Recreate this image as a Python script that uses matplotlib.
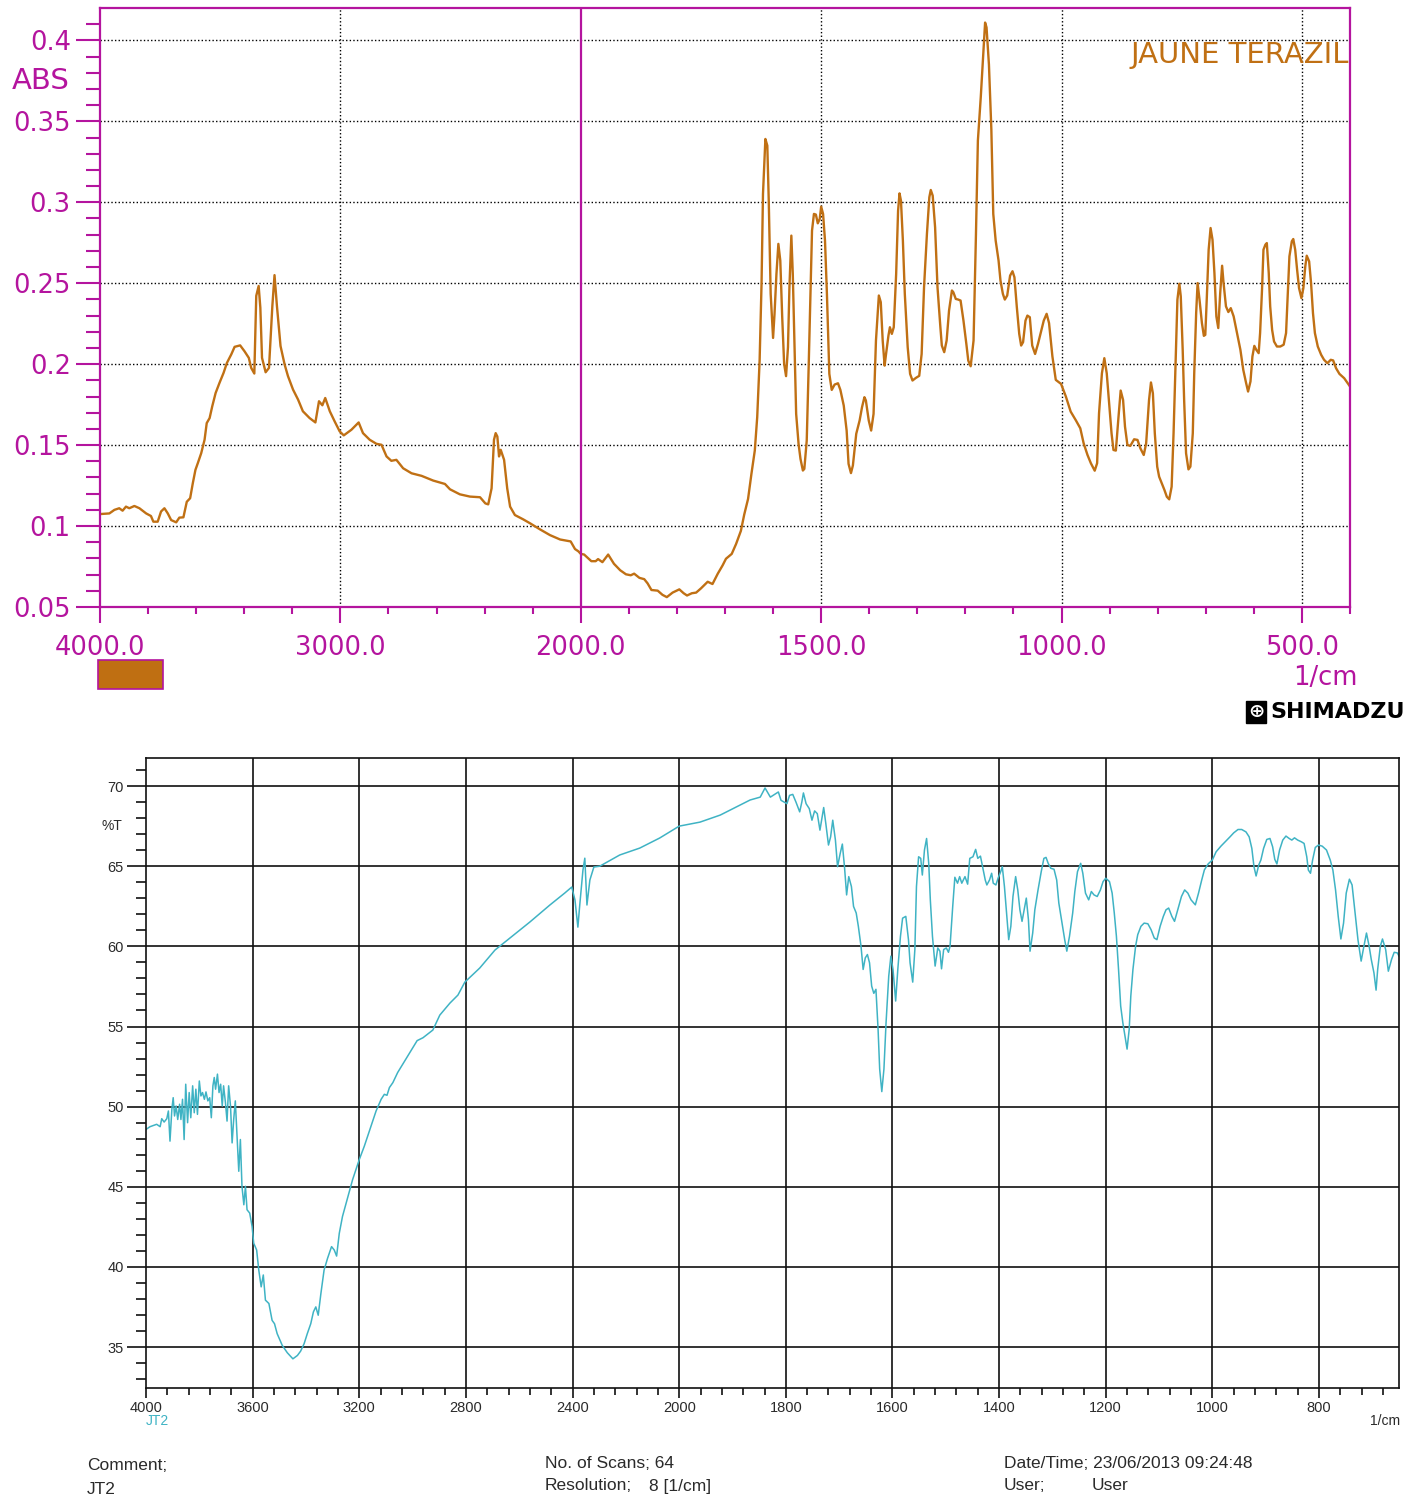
import numpy as np
import matplotlib
matplotlib.use("Agg")
import matplotlib.pyplot as plt
from matplotlib.ticker import FixedLocator, FuncFormatter
from matplotlib.patches import Rectangle

# ---------------- 数据: 上图 (吸光度 ABS) ----------------
abs_wavenumber = [
    4000, 3961, 3940, 3920, 3906, 3892, 3878, 3857, 3836, 3808, 3788, 3778, 3760,
    3746, 3732, 3718, 3704, 3683, 3670, 3653, 3639, 3625, 3614, 3603, 3593, 3579,
    3565, 3556, 3544, 3533, 3519, 3503, 3486, 3472, 3454, 3440, 3417, 3399, 3381,
    3371, 3358, 3350, 3340, 3333, 3326, 3311, 3297, 3283, 3274, 3264, 3249, 3232,
    3218, 3197, 3176, 3156, 3128, 3104, 3089, 3075, 3063, 3044, 3024, 3003, 2986,
    2954, 2924, 2906, 2878, 2850, 2829, 2808, 2788, 2767, 2739, 2704, 2662, 2614,
    2565, 2544, 2503, 2461, 2419, 2397, 2385, 2371, 2361, 2354, 2347, 2340, 2333,
    2319, 2306, 2294, 2274, 2239, 2211, 2169, 2128, 2086,
    2042, 2024, 2010, 2000, 1993, 1978, 1969, 1964, 1955, 1943, 1931, 1918, 1906,
    1896, 1889, 1878, 1868, 1861, 1853, 1840, 1830, 1821, 1809, 1795, 1786, 1779,
    1769, 1760, 1750, 1736, 1726, 1715, 1705, 1698, 1686, 1677, 1667, 1660,
    1652, 1645, 1638, 1633, 1628, 1624, 1621, 1616, 1612, 1609, 1605, 1600, 1597,
    1593, 1589, 1585, 1581, 1577, 1573, 1569, 1566, 1562, 1559, 1555, 1552, 1547,
    1543, 1538, 1535, 1530, 1526, 1522, 1519, 1515, 1511, 1507, 1503, 1500, 1496,
    1492, 1488, 1483, 1478, 1472, 1465, 1460, 1453, 1447, 1443, 1438, 1434, 1427,
    1420, 1415, 1410, 1407, 1401, 1396, 1391, 1386, 1380, 1376, 1372, 1368, 1365,
    1360, 1357, 1353, 1349, 1344, 1340, 1337, 1334, 1330, 1326, 1320, 1315, 1310,
    1303, 1296, 1291, 1286, 1280, 1275, 1272, 1268, 1263, 1258, 1252, 1249, 1244,
    1239, 1234, 1228, 1225, 1220, 1215, 1210, 1204, 1198, 1194, 1189, 1183, 1178,
    1174, 1168, 1162, 1159, 1156, 1151, 1146, 1142, 1137, 1131, 1127, 1122, 1118,
    1113, 1107, 1102, 1098, 1093, 1088, 1084, 1080, 1075, 1071, 1066, 1061, 1055,
    1049, 1042, 1037, 1031,
    1026, 1019, 1012, 1001, 991, 981, 970, 961, 954, 946, 939, 931, 926, 922, 916,
    911, 906, 901, 896, 892, 887, 882, 877, 872, 868, 863, 857, 849, 842, 836, 829,
    824, 818, 814, 810, 806, 801, 797, 792, 786, 781, 776, 771, 767, 763, 759, 755,
    752, 748, 745, 741, 736, 732, 727, 724, 720, 717, 713, 708, 704, 701, 698, 694,
    690, 686, 682, 678, 674, 670, 666, 663, 658, 653, 648, 642, 635, 628, 622, 616,
    612, 607, 603, 599, 595, 590, 587, 583, 580, 576, 573, 569, 566, 562, 558, 552,
    545, 538, 533, 530, 526, 521, 518, 514, 510, 506, 501, 497, 493, 490, 485, 481,
    477, 473, 467, 460, 454, 447, 440, 435, 429, 422, 412, 400,
]
abs_value = [
    0.1074, 0.1078, 0.1100, 0.1110, 0.1095, 0.1120, 0.1110, 0.1124, 0.1110, 0.1078,
    0.1062, 0.1027, 0.1027, 0.1090, 0.1110, 0.1078, 0.1037, 0.1023, 0.1052, 0.1054,
    0.1150, 0.1172, 0.1264, 0.1347, 0.1389, 0.1450, 0.1533, 0.1636, 0.1667, 0.1740,
    0.1822, 0.1884, 0.1946, 0.2008, 0.2060, 0.2107, 0.2116, 0.2080, 0.2039, 0.1977,
    0.1942, 0.2422, 0.2483, 0.2349, 0.2039, 0.1950, 0.1977, 0.2360, 0.2550, 0.2360,
    0.2112, 0.1998, 0.1926, 0.1843, 0.1781, 0.1709, 0.1667, 0.1640, 0.1771, 0.1746,
    0.1791, 0.1709, 0.1647, 0.1585, 0.1560, 0.1595, 0.1640, 0.1574, 0.1533, 0.1508,
    0.1502, 0.1430, 0.1403, 0.1409, 0.1357, 0.1326, 0.1310, 0.1281, 0.1260, 0.1227,
    0.1196, 0.1182, 0.1178, 0.1140, 0.1134, 0.1233, 0.1533, 0.1574, 0.1553, 0.1430,
    0.1471, 0.1409, 0.1233, 0.1120, 0.1068, 0.1041, 0.1017, 0.0979, 0.0944, 0.0917,
    0.0905, 0.0858, 0.0844, 0.0828, 0.0824, 0.0783, 0.0783, 0.0796, 0.0777, 0.0824,
    0.0767, 0.0727, 0.0702, 0.0696, 0.0706, 0.0680, 0.0672, 0.0646, 0.0605, 0.0601,
    0.0575, 0.0561, 0.0589, 0.0609, 0.0585, 0.0571, 0.0585, 0.0589, 0.0615, 0.0656,
    0.0642, 0.0706, 0.0757, 0.0798, 0.0828, 0.0889, 0.0970, 0.1071,
    0.1168, 0.1323, 0.1467, 0.1673, 0.2022, 0.2496, 0.3051, 0.3391, 0.3350, 0.3010,
    0.2434, 0.2162, 0.2310, 0.2557, 0.2743, 0.2640, 0.2290, 0.2002, 0.1926, 0.2105,
    0.2475, 0.2794, 0.2557, 0.2063, 0.1693, 0.1508, 0.1415, 0.1343, 0.1353, 0.1528,
    0.1981, 0.2475, 0.2825, 0.2928, 0.2924, 0.2870, 0.2897, 0.2973, 0.2928, 0.2763,
    0.2434, 0.1940, 0.1841, 0.1874, 0.1882, 0.1841, 0.1744, 0.1590, 0.1384, 0.1327,
    0.1374, 0.1570, 0.1652, 0.1734, 0.1796, 0.1776, 0.1652, 0.1590, 0.1693, 0.2146,
    0.2424, 0.2383, 0.2146, 0.1991, 0.2063, 0.2177, 0.2228, 0.2187, 0.2228, 0.2557,
    0.2948, 0.3055, 0.3010, 0.2763, 0.2434, 0.2105, 0.1940, 0.1899, 0.1915, 0.1928,
    0.2063, 0.2475, 0.2804, 0.3031, 0.3076, 0.3041, 0.2846, 0.2475, 0.2228, 0.2115,
    0.2074, 0.2146, 0.2331, 0.2455, 0.2444, 0.2403, 0.2399, 0.2393, 0.2269, 0.2125,
    0.2022, 0.1987, 0.2146, 0.2804, 0.3381, 0.3650, 0.3950, 0.4110, 0.4080, 0.3850,
    0.3450, 0.2928, 0.2763, 0.2640, 0.2516, 0.2434, 0.2399, 0.2424, 0.2547, 0.2574,
    0.2537, 0.2352, 0.2187, 0.2115, 0.2136, 0.2269, 0.2300, 0.2290, 0.2115, 0.2063,
    0.2125, 0.2208, 0.2269, 0.2311,
    0.2254, 0.2048, 0.1903, 0.1878, 0.1800, 0.1707, 0.1652, 0.1604, 0.1511, 0.1439,
    0.1388, 0.1342, 0.1388, 0.1697, 0.1944, 0.2037, 0.1944, 0.1759, 0.1573, 0.1470,
    0.1466, 0.1656, 0.1837, 0.1779, 0.1614, 0.1501, 0.1495, 0.1536, 0.1532, 0.1480,
    0.1439, 0.1511, 0.1779, 0.1887, 0.1820, 0.1573, 0.1367, 0.1305, 0.1268, 0.1223,
    0.1181, 0.1165, 0.1243, 0.1573, 0.1985, 0.2398, 0.2497, 0.2419, 0.2089, 0.1779,
    0.1450, 0.1350, 0.1367, 0.1573, 0.1944, 0.2315, 0.2501, 0.2398, 0.2254, 0.2175,
    0.2181, 0.2398, 0.2707, 0.2841, 0.2769, 0.2563, 0.2295, 0.2223, 0.2439, 0.2608,
    0.2501, 0.2357, 0.2322, 0.2346, 0.2295, 0.2192, 0.2089, 0.1965, 0.1882, 0.1831,
    0.1893, 0.2047, 0.2113, 0.2089, 0.2068, 0.2192, 0.2460, 0.2707, 0.2738, 0.2748,
    0.2563, 0.2357, 0.2212, 0.2140, 0.2109, 0.2109, 0.2120, 0.2192, 0.2398, 0.2666,
    0.2759, 0.2773, 0.2707, 0.2583, 0.2470, 0.2408, 0.2470, 0.2604, 0.2670, 0.2635,
    0.2501, 0.2315, 0.2192, 0.2109, 0.2058, 0.2027, 0.2006, 0.2027, 0.2023, 0.1975,
    0.1940, 0.1913, 0.1862,
]

# ---------------- 数据: 下图 (透过率 %T) ----------------
trans_wavenumber = [
    4000, 3985, 3960, 3947, 3941, 3932, 3922, 3916, 3910, 3903, 3898, 3893, 3887,
    3881, 3874, 3869, 3863, 3857, 3851, 3844, 3838, 3832, 3825, 3819, 3813, 3807,
    3800, 3794, 3788, 3781, 3775, 3768, 3761, 3755, 3749, 3744, 3739, 3732, 3726,
    3720, 3714, 3709, 3702, 3696, 3690, 3683, 3677, 3671, 3665, 3658, 3652, 3646,
    3640, 3633, 3627, 3621, 3611, 3602, 3596, 3585, 3577, 3568, 3560, 3552, 3539,
    3527, 3518, 3508, 3489, 3470, 3449, 3432, 3420, 3407, 3395, 3382, 3372, 3363,
    3354, 3344, 3332, 3319, 3304, 3294, 3285, 3275, 3263, 3244, 3225, 3200, 3181,
    3156, 3137, 3118, 3106, 3096, 3087, 3074, 3056, 3037, 3018, 2999, 2983, 2961,
    2924, 2898, 2860, 2830, 2804, 2748, 2691, 2635, 2560, 2485, 2429, 2403, 2391,
    2380, 2373, 2361, 2354, 2346, 2335, 2320, 2298, 2223, 2148, 2073, 2000,
    1961, 1923, 1886, 1867, 1848, 1839, 1829, 1814,
    1809, 1798, 1793, 1787, 1781, 1774, 1770, 1767, 1762, 1756, 1751, 1746, 1741,
    1736, 1732, 1729, 1725, 1720, 1716, 1712, 1707, 1703, 1698, 1694, 1690, 1686,
    1682, 1677, 1673, 1668, 1664, 1659, 1655, 1651, 1647, 1643, 1639, 1635, 1631,
    1627, 1624, 1620, 1616, 1612, 1607, 1603, 1599, 1594, 1590, 1585, 1581, 1575,
    1570, 1567, 1562, 1558, 1555, 1551, 1547, 1544, 1540, 1536, 1532, 1529, 1525,
    1520, 1515, 1511, 1508, 1504, 1499, 1495, 1492, 1487, 1483, 1478, 1474, 1470,
    1464, 1459, 1455, 1449, 1444, 1440, 1435, 1431, 1426, 1423, 1418, 1414, 1411,
    1406, 1402, 1397, 1394, 1390, 1386, 1382, 1378, 1374, 1369, 1365, 1361, 1357,
    1353, 1349, 1345, 1342, 1337, 1333, 1327, 1321, 1316, 1312, 1308, 1303, 1297,
    1292, 1288, 1282, 1277, 1273, 1268, 1262, 1258, 1253, 1247, 1243, 1238, 1232,
    1227, 1222, 1216, 1210, 1205, 1200, 1193, 1188, 1184, 1180, 1176, 1172, 1168,
    1164, 1160, 1156, 1153, 1149, 1144, 1140, 1134, 1128, 1121, 1115, 1109, 1104,
    1098, 1092, 1087, 1082, 1076, 1071, 1065, 1058, 1052, 1046, 1040, 1032, 1026,
    1020, 1015, 1008, 1000, 993, 984, 974, 967, 960, 952, 945, 937, 931, 926, 922,
    918, 913, 909, 904, 898, 892, 887, 883, 879, 874, 868, 862, 856, 851, 846, 840,
    833, 828, 823, 820, 816, 812, 807, 801, 794, 786, 779, 774, 769, 764, 759, 754,
    749, 743, 738, 733, 727, 721, 717, 711, 706, 702, 697, 693, 690, 685, 681, 675,
    670, 664, 659, 653, 650,
]
trans_value = [
    48.58, 48.75, 48.90, 48.75, 49.25, 49.04, 49.25, 49.73, 47.85, 49.83, 50.56,
    49.42, 50.04, 49.20, 50.15, 49.20, 50.46, 47.95, 51.40, 49.00, 50.88, 49.31,
    51.30, 49.62, 51.09, 49.52, 51.60, 50.67, 50.88, 50.46, 50.92, 50.36, 50.56,
    49.31, 51.30, 51.82, 51.09, 52.03, 50.88, 51.40, 50.04, 51.30, 50.25, 49.10,
    51.30, 50.04, 47.74, 49.21, 50.36, 47.95, 45.97, 47.95, 45.03, 43.88, 45.03,
    43.57, 43.36, 42.52, 41.48, 41.06, 39.81, 38.76, 39.50, 37.93, 37.72, 36.67,
    36.46, 35.84, 35.11, 34.65, 34.27, 34.48, 34.75, 35.21, 35.84, 36.46, 37.20,
    37.51, 36.99, 38.34, 39.81, 40.54, 41.27, 41.06, 40.68, 42.10, 43.15, 44.30,
    45.45, 46.70, 47.54, 48.79, 49.73, 50.46, 50.77, 50.71, 51.19, 51.50, 52.13,
    52.65, 53.18, 53.70, 54.12, 54.30,
    54.78, 55.71, 56.46, 56.96, 57.77, 58.65, 59.77, 60.52, 61.52, 62.58, 63.33,
    63.70, 62.90, 61.20, 62.58, 64.76, 65.50, 62.58, 64.14, 64.95, 65.00, 65.70,
    66.13, 66.76, 67.50,
    67.75, 68.19, 68.81, 69.13, 69.31, 69.88, 69.31, 69.63,
    69.11, 68.90, 69.42, 69.48, 69.00, 68.39, 69.00, 69.57, 68.90, 68.59, 67.87,
    68.45, 68.28, 67.25, 68.08, 68.66, 67.66, 66.32, 66.83, 67.87, 66.63, 64.97,
    65.80, 66.38, 64.97, 63.21, 64.35, 63.73, 62.49, 62.08, 61.25, 60.01, 58.56,
    59.28, 59.49, 58.97, 57.52, 57.07, 57.32, 54.83, 52.35, 50.94, 52.35, 55.25,
    58.14, 59.39, 58.56, 56.59, 58.56, 60.63, 61.76, 61.87, 60.42, 58.97, 57.77,
    59.80, 63.73, 65.59, 65.49, 64.45, 66.01, 66.73, 65.18, 62.90, 60.63, 58.77,
    59.90, 59.70, 58.60, 59.80, 59.90, 59.63, 60.01, 62.49, 64.31, 63.94, 64.35,
    63.94, 64.35, 63.88, 65.49, 65.59, 66.05, 65.49, 65.63, 64.97, 64.14, 63.83,
    64.14, 64.56, 63.94, 63.83, 64.25, 64.66, 64.97, 63.73, 62.08, 60.42, 61.25,
    63.11, 64.35, 63.52, 62.28, 61.56, 62.28, 63.01, 61.66, 59.70, 60.83, 62.28,
    63.52, 64.66, 65.49, 65.55, 65.18, 64.87, 64.81, 64.14, 62.70, 61.45, 60.42,
    59.70, 60.63, 62.08, 63.42, 64.66, 65.18, 64.56, 63.32, 62.90, 63.42, 63.21,
    63.11, 63.52, 64.04, 64.25, 64.04, 63.32, 62.08, 60.63, 58.56, 56.28, 55.25,
    54.42, 53.59, 54.83, 56.90, 58.56, 60.01, 60.73, 61.25, 61.45, 61.41, 61.04,
    60.52, 60.42, 61.25, 61.87, 62.28, 62.39, 61.87, 61.56, 62.28, 63.11, 63.52,
    63.32, 62.90, 62.59, 63.32, 64.14, 64.77, 65.14, 65.39, 65.90, 66.25, 66.59,
    66.83, 67.08, 67.29, 67.29, 67.14, 66.83, 66.11, 64.97, 64.39, 65.08, 65.39,
    66.11, 66.67, 66.73, 66.21, 65.43, 65.14, 66.01, 66.63, 66.88, 66.73, 66.63,
    66.77, 66.63, 66.52, 66.42, 65.59, 64.76, 64.56, 65.39, 66.17, 66.32, 66.25,
    66.01, 65.39, 64.76, 63.52, 61.87, 60.46, 61.45, 63.32, 64.19, 63.83, 62.28,
    60.42, 59.08, 59.80, 60.83, 60.01, 59.18, 58.35, 57.27, 58.56, 60.01, 60.46,
    59.80, 58.45, 59.18, 59.63, 59.59, 59.39,
]

abs_xticks = [4000, 3000, 2000, 1500, 1000, 500]
abs_yticks = [0.05, 0.1, 0.15, 0.2, 0.25, 0.3, 0.35, 0.4]
trans_xticks = [4000, 3600, 3200, 2800, 2400, 2000, 1800, 1600, 1400, 1200, 1000, 800]
trans_yticks = [35, 40, 45, 50, 55, 60, 65, 70]

sample_name = "JAUNE TERAZIL"
sample_code = "JT2"

# 颜色
MAGENTA = "#B4149E"
ORANGE = "#C07014"
TEAL = "#3FB3C4"
DARK = "#2a2a2a"
SANS = ["Liberation Sans", "DejaVu Sans"]

W, H = 1423, 1501


def fold(x):
    """2000 cm-1 以上压缩一半 (仪器的分段刻度)"""
    x = np.asarray(x, dtype=float)
    return np.where(x > 2000, 2000 + (x - 2000) / 2, x)


def unfold(y):
    y = np.asarray(y, dtype=float)
    return np.where(y > 2000, 2000 + (y - 2000) * 2, y)


def fx(px):
    return px / W


def fy(py):
    return 1 - py / H


fig = plt.figure(figsize=(W / 100, H / 100), dpi=100)

# ================= 上图 =================
ax1 = fig.add_axes([fx(100), fy(607), fx(1350) - fx(100), fy(8) - fy(607)])
ax1.set_xscale("function", functions=(fold, unfold))
ax1.set_xlim(4000, 400)
ax1.set_ylim(0.05, 0.42)

# 虚线网格
for x in abs_xticks[1:]:
    if x != 2000:
        ax1.axvline(x, color="black", lw=1.0, ls=(0, (1, 1.6)), zorder=1)
for y in abs_yticks[1:]:
    ax1.axhline(y, color="black", lw=1.0, ls=(0, (1, 1.6)), zorder=1)
ax1.axvline(2000, color=MAGENTA, lw=1.6, zorder=3)

ax1.plot(abs_wavenumber, abs_value, color=ORANGE, lw=1.7, zorder=2)

for s in ax1.spines.values():
    s.set_color(MAGENTA)
    s.set_linewidth(1.6)

ax1.xaxis.set_major_locator(FixedLocator(abs_xticks))
minor_x = list(range(3800, 2000, -200)) + [v for v in range(1900, 399, -100) if v % 500]
ax1.xaxis.set_minor_locator(FixedLocator(minor_x))
ax1.xaxis.set_major_formatter(FuncFormatter(lambda v, p: f"{v:.1f}"))
ax1.yaxis.set_major_locator(FixedLocator(abs_yticks))
ax1.yaxis.set_minor_locator(FixedLocator(np.round(np.arange(0.06, 0.415, 0.01), 2)))
ax1.yaxis.set_major_formatter(FuncFormatter(lambda v, p: f"{v:g}"))

ax1.tick_params(axis="x", which="major", length=11.5, width=1.5, pad=9,
                colors=MAGENTA, labelsize=18.5)
ax1.tick_params(axis="x", which="minor", length=5, width=1.5, colors=MAGENTA)
ax1.tick_params(axis="y", which="major", length=17, width=1.5, pad=4,
                colors=MAGENTA, labelsize=18.5)
ax1.tick_params(axis="y", which="minor", length=10, width=1.5, colors=MAGENTA)

fig.text(fx(70), fy(81), "ABS", color=MAGENTA, fontsize=21, ha="right", va="center")
fig.text(fx(1349), fy(55), sample_name, color=ORANGE, fontsize=21,
         ha="right", va="center")
fig.text(fx(1358), fy(678), "1/cm", color=MAGENTA, fontsize=18.5, ha="right", va="center")
fig.add_artist(Rectangle((fx(98), fy(689)), fx(163) - fx(98), fy(660) - fy(689),
                         transform=fig.transFigure, facecolor="#BF6F12",
                         edgecolor=MAGENTA, lw=1.2))

# SHIMADZU 标志
fig.text(fx(1256), fy(712), "\u2295", color="white", fontsize=14, fontweight="bold",
         ha="center", va="center",
         bbox=dict(boxstyle="square,pad=0.08", fc="black", ec="black"))
fig.text(fx(1270), fy(712), "SHIMADZU", color="black", fontsize=16, fontweight="bold",
         ha="left", va="center")

# ================= 下图 =================
ax2 = fig.add_axes([fx(146), fy(1388), fx(1399) - fx(146), fy(758) - fy(1388)])
ax2.set_xscale("function", functions=(fold, unfold))
ax2.set_xlim(4000, 650)
ax2.set_ylim(32.45, 71.75)

for x in trans_xticks[1:]:
    ax2.axvline(x, color="#111111", lw=1.2, zorder=1)
for y in trans_yticks:
    ax2.axhline(y, color="#111111", lw=1.2, zorder=1)

ax2.plot(trans_wavenumber, trans_value, color=TEAL, lw=1.1, zorder=2)

for s in ax2.spines.values():
    s.set_color("#111111")
    s.set_linewidth(1.2)

ax2.xaxis.set_major_locator(FixedLocator(trans_xticks))
minor_x2 = [v for v in range(3920, 2000, -80) if v % 400] + \
           [v for v in range(1960, 649, -40) if v % 200]
ax2.xaxis.set_minor_locator(FixedLocator(minor_x2))
ax2.yaxis.set_major_locator(FixedLocator(trans_yticks))
ax2.yaxis.set_minor_locator(FixedLocator([v for v in range(33, 72) if v % 5]))

ax2.tick_params(axis="x", which="major", length=7, width=1.2, pad=2,
                colors="#111111", labelsize=10.5, labelcolor=DARK)
ax2.tick_params(axis="x", which="minor", length=5, width=1.2, colors="#111111")
ax2.tick_params(axis="y", which="major", length=14, width=1.2, pad=2,
                colors="#111111", labelsize=10.5, labelcolor=DARK)
ax2.tick_params(axis="y", which="minor", length=7, width=1.2, colors="#111111")
for lab in ax2.get_xticklabels() + ax2.get_yticklabels():
    lab.set_family(SANS)

fig.text(fx(122), fy(826), "%T", color=DARK, fontsize=10, ha="right", va="center",
         family=SANS)
fig.text(fx(157), fy(1421), sample_code, color=TEAL, fontsize=10, ha="center",
         va="center", family=SANS)
fig.text(fx(1400), fy(1421), "1/cm", color=DARK, fontsize=10, ha="right",
         va="center", family=SANS)

# 页脚信息
footer = [
    (87, 1465, "Comment;"),
    (87, 1490, sample_code),
    (545, 1463, "No. of Scans; 64"),
    (545, 1486, "Resolution;"),
    (649, 1486, "8 [1/cm]"),
    (1004, 1463, "Date/Time; 23/06/2013 09:24:48"),
    (1004, 1486, "User;"),
    (1092, 1486, "User"),
]
for x, y, t in footer:
    fig.text(fx(x), fy(y), t, color=DARK, fontsize=12.5, ha="left", va="center",
             family=SANS)

fig.savefig("out.png", dpi=100)
